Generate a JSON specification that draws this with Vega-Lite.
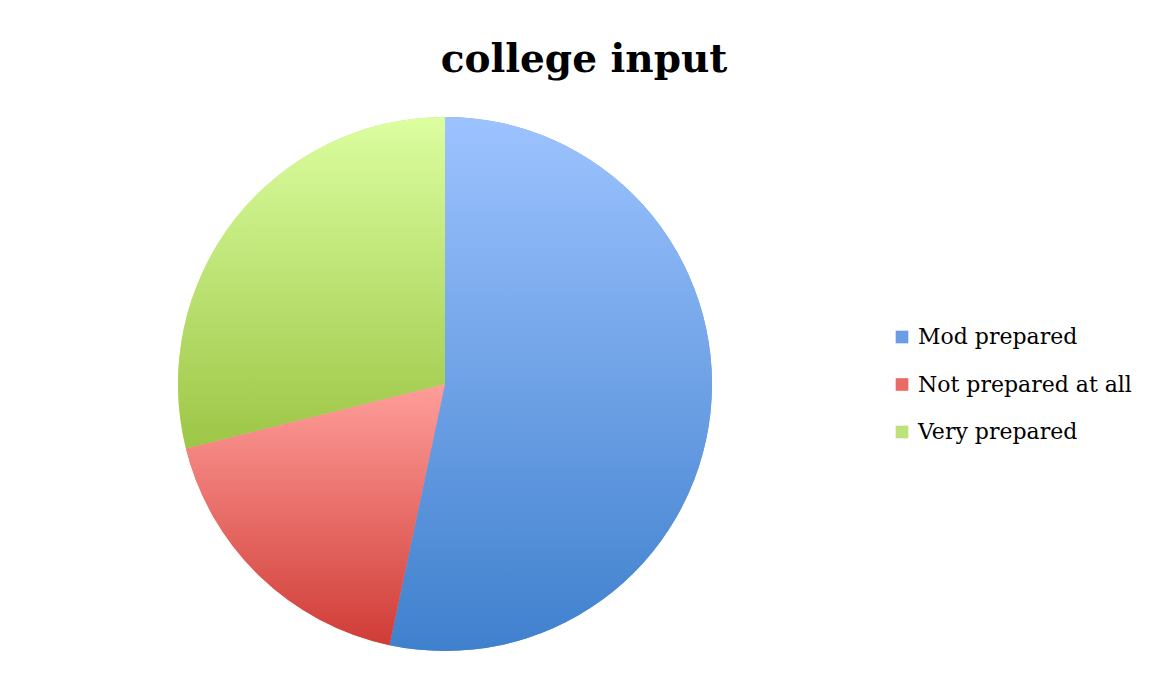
{
  "$schema": "https://vega.github.io/schema/vega-lite/v6.json",
  "autosize": "none",
  "padding": {"left": 0, "top": 100, "right": 262, "bottom": 5},
  "width": 890,
  "height": 568,
  "background": "white",
  "config": {"view": {"stroke": null}},
  "title": {
    "text": "college input",
    "font": "DejaVu Serif",
    "fontSize": 39,
    "fontWeight": "bold",
    "color": "black",
    "anchor": "middle",
    "dx": 139,
    "offset": 20
  },
  "data": {
    "values": [
      {"category": "Mod prepared", "count": 24},
      {"category": "Not prepared at all", "count": 8},
      {"category": "Very prepared", "count": 13}
    ]
  },
  "layer": [
    {
      "mark": {"type": "arc", "outerRadius": 267},
      "encoding": {
        "theta": {"field": "count", "type": "quantitative", "stack": true},
        "color": {
          "field": "category",
          "type": "nominal",
          "scale": {
            "domain": ["Mod prepared", "Not prepared at all", "Very prepared"],
            "range": ["#6a9de6", "#ea6b66", "#bde27a"]
          },
          "legend": {
            "title": null,
            "orient": "none",
            "legendX": 891,
            "legendY": 226,
            "padding": 0,
            "symbolType": "square",
            "symbolSize": 160,
            "symbolStrokeWidth": 0,
            "symbolOpacity": 1,
            "labelFont": "DejaVu Serif",
            "labelFontSize": 22,
            "labelColor": "black",
            "labelOffset": 5,
            "rowPadding": 25.5,
            "labelLimit": 400
          }
        }
      }
    },
    {
      "mark": {"type": "arc", "outerRadius": 267},
      "encoding": {
        "theta": {"field": "count", "type": "quantitative", "stack": true},
        "detail": {"field": "category", "type": "nominal"},
        "fill": {
          "condition": [
            {"test": "datum.category === 'Mod prepared'", "value": {"gradient": "linear", "x1": 0, "y1": 0, "x2": 0, "y2": 1, "stops": [{"offset": 0, "color": "#9dc3ff"}, {"offset": 1, "color": "#3f80cd"}]}},
            {"test": "datum.category === 'Not prepared at all'", "value": {"gradient": "linear", "x1": 0, "y1": 0, "x2": 0, "y2": 1, "stops": [{"offset": 0, "color": "#ff9e9a"}, {"offset": 1, "color": "#d03c36"}]}}
          ],
          "value": {"gradient": "linear", "x1": 0, "y1": 0, "x2": 0, "y2": 1, "stops": [{"offset": 0, "color": "#dcfea0"}, {"offset": 1, "color": "#9cc646"}]}
        }
      }
    }
  ]
}
